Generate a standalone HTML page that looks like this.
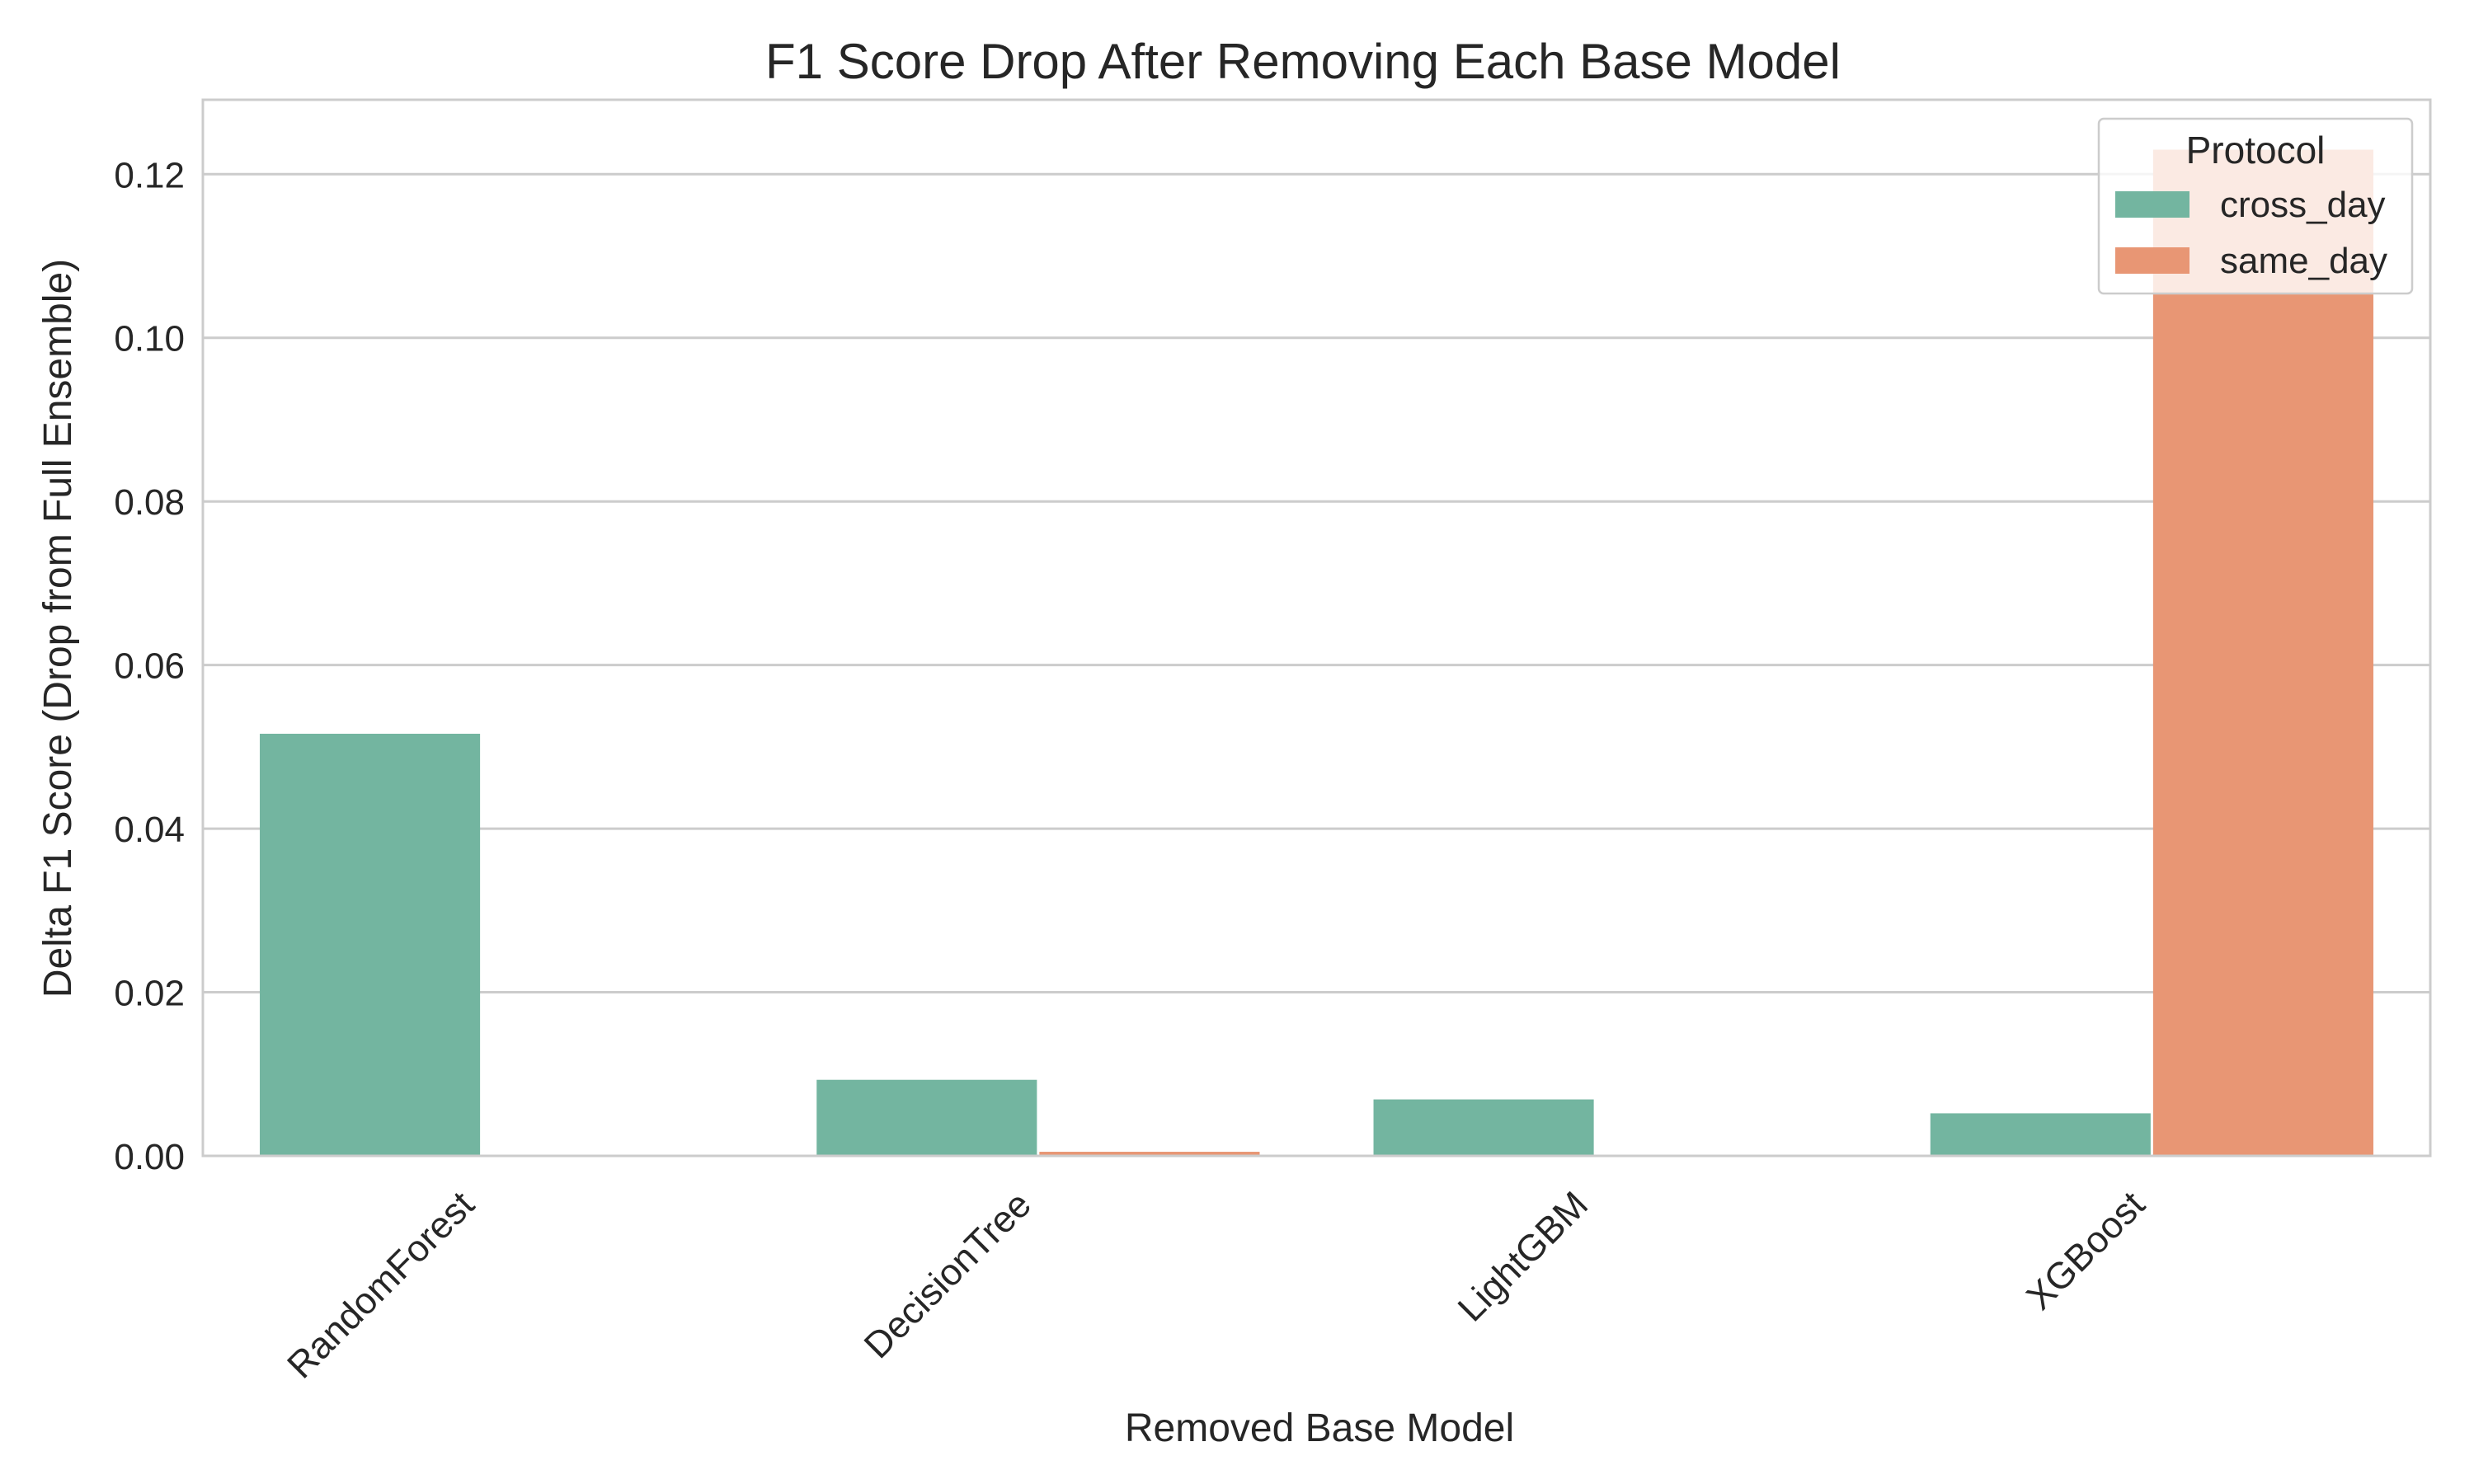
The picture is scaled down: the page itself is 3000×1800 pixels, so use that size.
<!DOCTYPE html>
<html><head><meta charset="utf-8"><style>
html,body{margin:0;padding:0;background:#fff;}
svg{display:block;font-family:"Liberation Sans",Arial,sans-serif;}
</style></head><body>
<svg id="chart" width="3000" height="1800" viewBox="0 0 3000 1800" xmlns="http://www.w3.org/2000/svg">
<text x="1580" y="95" font-size="60" text-anchor="middle" fill="#262626">F1 Score Drop After Removing Each Base Model</text>
<g id="grid"></g>
<g id="bars"></g>
<rect x="246" y="121" width="2701" height="1281" fill="none" stroke="#cccccc" stroke-width="3"/>
<g id="yticks"></g>
<g id="xticks"></g>
<text x="1600" y="1748" font-size="48" text-anchor="middle" fill="#262626">Removed Base Model</text>
<text transform="translate(86,762) rotate(-90)" font-size="48" text-anchor="middle" fill="#262626">Delta F1 Score (Drop from Full Ensemble)</text>
<g transform="translate(-13,0)">
<rect x="2558" y="144" width="380" height="212" rx="6" fill="#fff" fill-opacity="0.8" stroke="#cccccc" stroke-width="2.5"/>
<text x="2748" y="198" font-size="46" text-anchor="middle" fill="#262626">Protocol</text>
<rect x="2578" y="232" width="90" height="32" fill="#73b5a0"/>
<text x="2705" y="263" font-size="44" fill="#262626">cross_day</text>
<rect x="2578" y="300" width="90" height="32" fill="#e89674"/>
<text x="2705" y="331" font-size="44" fill="#262626">same_day</text>
</g>
</svg>
<script>
const categories = ["RandomForest","DecisionTree","LightGBM","XGBoost"];
const crossDay = [0.0516,0.0093,0.0069,0.0052];
const sameDay = [0.0,0.0005,0.0,0.123];
const yTicks = [0,0.02,0.04,0.06,0.08,0.10,0.12];
const yTickLabels = ["0.00","0.02","0.04","0.06","0.08","0.10","0.12"];
const series = [{name:"cross-day",vals:crossDay,color:"#73b5a0"},{name:"same-day",vals:sameDay,color:"#e89674"}];

const NS="http://www.w3.org/2000/svg";
const L=246,R=2947,T=121,B=1402,YMAX=0.1291;
const y=v=>B-(v/YMAX)*(B-T);
const gw=(R-L)/categories.length;
const xc=i=>L+gw*(i+0.5);
function mk(tag,attrs,parent){const e=document.createElementNS(NS,tag);for(const k in attrs)e.setAttribute(k,attrs[k]);parent.appendChild(e);return e;}
const grid=document.getElementById('grid'),yt=document.getElementById('yticks'),xt=document.getElementById('xticks'),bars=document.getElementById('bars');
yTicks.forEach((v,i)=>{
  const ln=mk('line',{x1:L,x2:R,y1:y(v),y2:y(v),stroke:'#cccccc','stroke-width':3},grid);
  
  
  const t=mk('text',{x:L-22,y:y(v)+16,'font-size':44,'text-anchor':'end',fill:'#262626'},yt);
  t.textContent=yTickLabels[i];
  
  
});
const bw=gw*0.8/2;
categories.forEach((c,i)=>{
  series.forEach((s,j)=>{
    const x0=xc(i)-gw*0.4+j*bw;
    const h=B-y(s.vals[i]);
    const r=mk('rect',{x:x0+1.5,y:y(s.vals[i]),width:bw-3,height:Math.max(h,0),fill:s.color},bars);
    
    
  });
  const t=mk('text',{'font-size':45,'text-anchor':'end',fill:'#262626',transform:`translate(${xc(i)-6},${B+62}) rotate(-45)`},xt);
  t.textContent=c;
  
  
});
</script>
</body></html>
